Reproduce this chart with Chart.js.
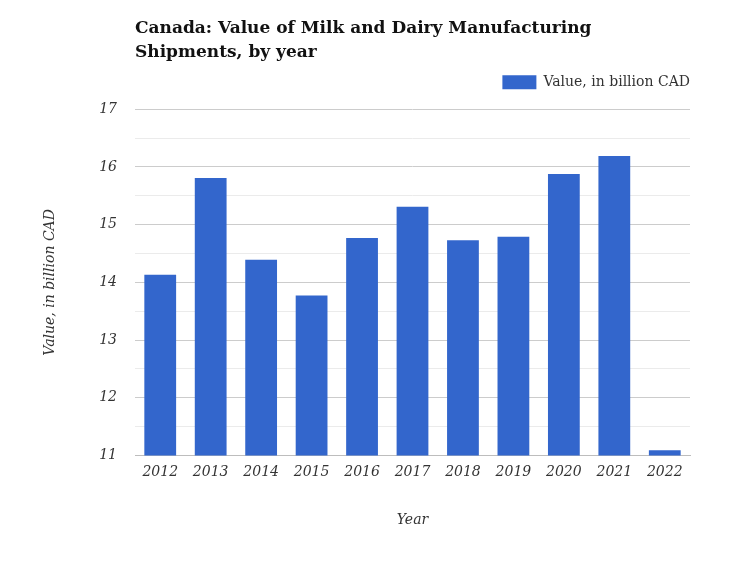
<!DOCTYPE html>
<html>
<head>
<meta charset="utf-8">
<script src="https://cdn.jsdelivr.net/npm/chart.js@4"></script>
<style>
  html, body { margin:0; padding:0; background:#fff; }
  #wrap { width:750px; height:563px; }
</style>
</head>
<body>
<div id="wrap"><canvas id="c"></canvas></div>
<script>
const years  = ['2012','2013','2014','2015','2016','2017','2018','2019','2020','2021','2022'];
const values = [14.13, 15.81, 14.39, 13.77, 14.77, 15.31, 14.73, 14.79, 15.88, 16.19, 11.09];
const seriesName = 'Value, in billion CAD';

const SERIF = '"DejaVu Serif", "Liberation Serif", serif';
const BAR = '#3366cc';
const LEG_PAD = 26;

// push the legend flush with the plot's right edge and a bit higher
const legendShift = {
  id:'legendShift',
  afterLayout(chart){
    const l = chart.legend;
    if (!l) return;
    l.left += LEG_PAD; l.right += LEG_PAD;
    l.top -= 10; l.bottom -= 10;
  }
};

new Chart(document.getElementById('c'), {
  type:'bar',
  data:{
    labels: years,
    datasets:[{ label: seriesName, data: values, backgroundColor: BAR, barPercentage: 0.63, categoryPercentage: 1 }]
  },
  options:{
    responsive:true, maintainAspectRatio:false, animation:false,
    layout:{ padding:{ left:38, right:60, top:16, bottom:30 } },
    plugins:{
      title:{
        display:true, align:'start', fullSize:false,
        text:['Canada: Value of Milk and Dairy Manufacturing','Shipments, by year'],
        color:'#111', font:{ family:SERIF, size:17, weight:'bold', lineHeight:1.45 },
        padding:{ top:0, bottom:-6 }
      },
      legend:{
        align:'end', fullSize:false,
        labels:{ color:'#333', boxWidth:34, boxHeight:14, font:{ family:SERIF, size:14 }, padding:LEG_PAD }
      },
      tooltip:{ enabled:false }
    },
    scales:{
      x:{
        grid:{ display:false },
        border:{ color:'#bdbdbd' },
        ticks:{ color:'#333', font:{ family:SERIF, size:14, style:'italic' }, padding:1, maxRotation:0 },
        title:{ display:true, text:'Year', color:'#333', font:{ family:SERIF, size:14, style:'italic' }, padding:{ top:30 } }
      },
      y:{
        min:11, max:17,
        afterFit: s => { s.width = 135 - 38; },
        border:{ display:false },
        grid:{
          drawTicks:false,
          color: c => Number.isInteger(c.tick.value) ? '#cccccc' : '#ebebeb'
        },
        ticks:{
          stepSize:0.5, padding:18, color:'#333',
          font:{ family:SERIF, size:14, style:'italic' },
          callback: v => Number.isInteger(v) ? v : ''
        },
        title:{ display:true, text:seriesName, color:'#333', font:{ family:SERIF, size:14, style:'italic' }, padding:{ bottom:14 } }
      }
    }
  },
  plugins:[legendShift]
});
</script>
</body>
</html>
